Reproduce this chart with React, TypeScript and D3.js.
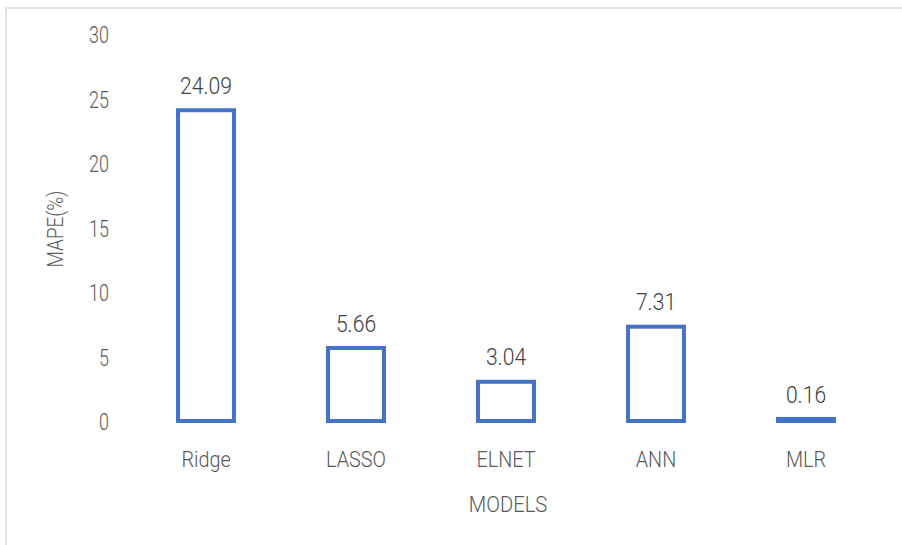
import React from 'react';
import * as d3 from 'd3';

const models = ['Ridge', 'LASSO', 'ELNET', 'ANN', 'MLR'];
const mape = [24.09, 5.66, 3.04, 7.31, 0.16];
const yTicks = [0, 5, 10, 15, 20, 25, 30];

const W = 902;
const H = 545;

// text in the reference is horizontally squeezed, so each label gets its own x-scale
function T(props: { x: number; y: number; anchor?: string; size: number; fill: string; sx?: number; rotate?: number; children: React.ReactNode }) {
    const { x, y, anchor = 'middle', size, fill, sx = 0.78, rotate = 0, children } = props;
    return (
        <text
            transform={`translate(${x},${y}) rotate(${rotate}) scale(${sx},1)`}
            dy="0.36em"
            textAnchor={anchor}
            fontFamily='Roboto, "Noto Sans", sans-serif'
            fontWeight={300}
            fontSize={size}
            fill={fill}
        >
            {children}
        </text>
    );
}

export default function App() {
    const x = d3.scaleBand<string>().domain(models).range([131, 881]).paddingInner(0.627).paddingOuter(0.3135);
    const y = d3.scaleLinear().domain([0, 30]).range([421, 34]);

    return (
        <svg width={W} height={H} style={{ position: 'absolute', left: 0, top: 0 }}>
            <rect x={0} y={0} width={W} height={H} fill="#fff" />
            <rect x={6} y={8} width={W + 10} height={H + 10} fill="none" stroke="#d9d9d9" strokeWidth={1.5} />

            {yTicks.map(t => (
                <T key={t} x={109} y={y(t) + 1} anchor="end" size={23} fill="#595959">{t}</T>
            ))}

            {models.map((m, i) => {
                const cx = x(m)! + x.bandwidth() / 2;
                return (
                    <g key={m}>
                        <rect
                            x={x(m)!}
                            y={y(mape[i])}
                            width={x.bandwidth()}
                            height={y(0) - y(mape[i])}
                            fill="#fff"
                            stroke="#4472c4"
                            strokeWidth={4}
                        />
                        <T x={cx} y={y(mape[i]) - 25} size={24} sx={0.88} fill="#404040">{mape[i].toFixed(2)}</T>
                        <T x={cx} y={459} size={22} sx={0.9} fill="#595959">{m}</T>
                    </g>
                );
            })}

            <T x={508} y={504} size={22} sx={0.92} fill="#595959">MODELS</T>
            <T x={55} y={229} size={22} sx={0.86} fill="#595959" rotate={-90}>MAPE(%)</T>
        </svg>
    );
}
